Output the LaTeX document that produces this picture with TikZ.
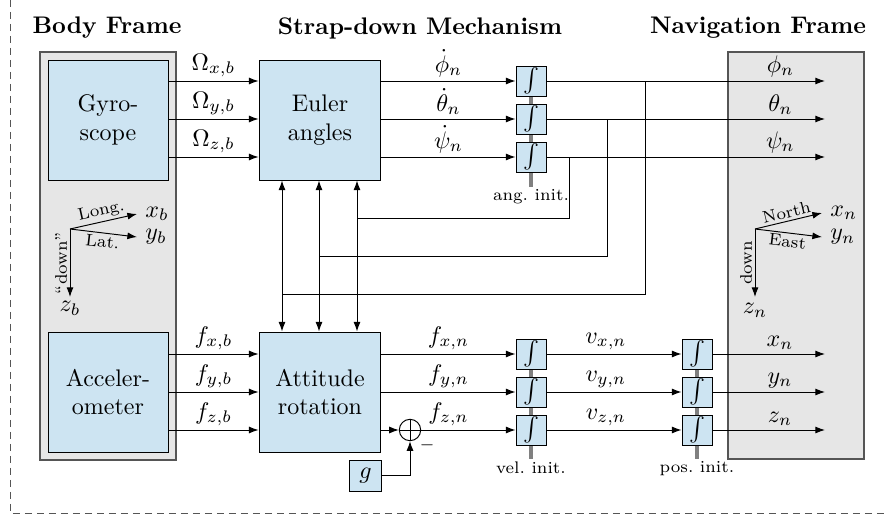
\documentclass[tikz,border=0pt]{standalone}
\usetikzlibrary{arrows.meta,backgrounds}
\definecolor{boxblue}{RGB}{205,228,242}
\definecolor{framegray}{RGB}{230,230,230}
\definecolor{edgegray}{RGB}{85,85,85}
\begin{document}
\begin{tikzpicture}[x=0.41667pt, y=-0.41667pt,
  >={Latex[length=4pt,width=2.9pt]},
  blk/.style={draw=black, fill=boxblue, minimum width=50pt, minimum height=50pt, inner sep=0pt, align=center},
  intbox/.style={draw=black, fill=boxblue, minimum size=12.5pt, inner sep=0pt},
  frm/.style={draw=edgegray, fill=framegray, line width=0.6pt, inner sep=0pt},
  ttl/.style={font=\bfseries},
  lbl/.style={above, inner sep=1.5pt},
  tinylbl/.style={font=\scriptsize, inner sep=1pt},
  initbar/.style={line width=2pt, draw=gray},
]
\useasboundingbox (0,0) rectangle (887,520);
% outer dashed frame
\coordinate (dtop) at (10,0);
\coordinate (dcorner) at (10,513);
\coordinate (dright) at (887,513);
\draw[edgegray, dash pattern=on 3pt off 2pt] (dtop) -- (dcorner) -- (dright);

% frames
\node[frm, minimum width=56.67pt, minimum height=170pt] (body) at (108,256) {};
\node[frm, minimum width=56.67pt, minimum height=169.6pt] (nav) at (796,255.5) {};

% titles
\node[ttl] (tbody) at (107,28) {Body Frame};
\node[ttl] (tmech) at (420,28) {Strap-down Mechanism};
\node[ttl] (tnav) at (758,28) {Navigation Frame};

% rows
\coordinate (r1) at (0,81);
\coordinate (r2) at (0,119);
\coordinate (r3) at (0,157);
\coordinate (r4) at (0,354);
\coordinate (r5) at (0,392);
\coordinate (r6) at (0,430);

% main blocks
\node[blk] (gyro) at (108,120) {Gyro-\\scope};
\node[blk, minimum width=50.8pt] (euler) at (320,120) {Euler\\angles};
\node[blk] (acc) at (108,392) {Acceler-\\ometer};
\node[blk, minimum width=50.8pt] (att) at (320,392) {Attitude\\rotation};

% integrators
\node[intbox] (ia1) at (531,81) {$\int$};
\node[intbox] (ia2) at (531,119) {$\int$};
\node[intbox] (ia3) at (531,157) {$\int$};
\node[intbox] (iv1) at (531,354) {$\int$};
\node[intbox] (iv2) at (531,392) {$\int$};
\node[intbox] (iv3) at (531,430) {$\int$};
\node[intbox] (ip1) at (697,354) {$\int$};
\node[intbox] (ip2) at (697,392) {$\int$};
\node[intbox] (ip3) at (697,430) {$\int$};

% init bars
\coordinate (angend) at (531,187);
\coordinate (velend) at (531,459);
\coordinate (posend) at (697,459);
\begin{scope}[on background layer]
\draw[initbar] (ia1.center) -- (angend);
\draw[initbar] (iv1.center) -- (velend);
\draw[initbar] (ip1.center) -- (posend);
\end{scope}
\node[tinylbl, below] (angtxt) at (angend) {ang.\ init.};
\node[tinylbl, below] (veltxt) at (velend) {vel.\ init.};
\node[tinylbl, below] (postxt) at (posend) {pos.\ init.};

% gyro -> euler
\draw[->] (gyro.east |- r1) -- (euler.west |- r1) node[midway,lbl]{$\Omega_{x,b}$};
\draw[->] (gyro.east |- r2) -- (euler.west |- r2) node[midway,lbl]{$\Omega_{y,b}$};
\draw[->] (gyro.east |- r3) -- (euler.west |- r3) node[midway,lbl]{$\Omega_{z,b}$};

% euler -> integrators
\draw[->] (euler.east |- r1) -- (ia1.west) node[midway,lbl]{$\dot\phi_n$};
\draw[->] (euler.east |- r2) -- (ia2.west) node[midway,lbl]{$\dot\theta_n$};
\draw[->] (euler.east |- r3) -- (ia3.west) node[midway,lbl]{$\dot\psi_n$};

% angle outputs
\coordinate (o1) at (825,81);
\coordinate (o2) at (825,119);
\coordinate (o3) at (825,157);
\draw[->] (ia1.east) -- (o1) node[lbl, pos=0.84]{$\phi_n$};
\draw[->] (ia2.east) -- (o2) node[lbl, pos=0.84]{$\theta_n$};
\draw[->] (ia3.east) -- (o3) node[lbl, pos=0.84]{$\psi_n$};

% feedback
\coordinate (b1) at (645,81);
\coordinate (b2) at (607,119);
\coordinate (b3) at (569,157);
\coordinate (f1) at (282,294);
\coordinate (f2) at (319,256);
\coordinate (f3) at (357,218);
\draw (b1) |- (f1);
\draw (b2) |- (f2);
\draw (b3) |- (f3);
\draw[<->] (euler.south -| f1) -- (att.north -| f1);
\draw[<->] (euler.south -| f2) -- (att.north -| f2);
\draw[<->] (euler.south -| f3) -- (att.north -| f3);

% acc -> attitude
\draw[->] (acc.east |- r4) -- (att.west |- r4) node[midway,lbl]{$f_{x,b}$};
\draw[->] (acc.east |- r5) -- (att.west |- r5) node[midway,lbl]{$f_{y,b}$};
\draw[->] (acc.east |- r6) -- (att.west |- r6) node[midway,lbl]{$f_{z,b}$};

% sum and gravity
\node[draw, circle, minimum size=8.9pt, inner sep=0pt] (sum) at (410,430) {};
\draw (sum.north) -- (sum.south) (sum.west) -- (sum.east);
\node[intbox, minimum width=13pt, minimum height=12.9pt] (g) at (365.5,475.5) {$g$};
\draw[->] (g.east) -| (sum.south);
\node[font=\scriptsize, anchor=north west, inner sep=0.5pt] (minus) at (sum.south east) {$-$};

% attitude -> vel integrators
\draw[->] (att.east |- r4) -- (iv1.west) node[midway,lbl]{$f_{x,n}$};
\draw[->] (att.east |- r5) -- (iv2.west) node[midway,lbl]{$f_{y,n}$};
\draw[->] (att.east |- r6) -- (sum.west);
\draw[->] (sum.east) -- (iv3.west) node[lbl, pos=0.29]{$f_{z,n}$};

% vel -> pos
\draw[->] (iv1.east) -- (ip1.west) node[lbl, pos=0.44]{$v_{x,n}$};
\draw[->] (iv2.east) -- (ip2.west) node[lbl, pos=0.44]{$v_{y,n}$};
\draw[->] (iv3.east) -- (ip3.west) node[lbl, pos=0.44]{$v_{z,n}$};

% position outputs
\coordinate (o4) at (825,354);
\coordinate (o5) at (825,392);
\coordinate (o6) at (825,430);
\draw[->] (ip1.east) -- (o4) node[lbl, pos=0.6]{$x_n$};
\draw[->] (ip2.east) -- (o5) node[lbl, pos=0.6]{$y_n$};
\draw[->] (ip3.east) -- (o6) node[lbl, pos=0.6]{$z_n$};

% body axes
\coordinate (ob) at (70,229);
\coordinate (xb) at (137,214);
\coordinate (yb) at (137,237);
\coordinate (zb) at (70,297);
\draw[->] (ob) -- (xb) node[midway, sloped, above, tinylbl]{Long.} node[right]{$x_b$};
\draw[->] (ob) -- (yb) node[midway, sloped, below, tinylbl]{Lat.} node[right]{$y_b$};
\draw[->] (ob) -- (zb) node[midway, rotate=90, anchor=south, tinylbl]{``down''} node[below, inner sep=1.5pt]{$z_b$};

% nav axes
\coordinate (on) at (755,229);
\coordinate (xn) at (822,213);
\coordinate (yn) at (822,237);
\coordinate (zn) at (755,297);
\draw[->] (on) -- (xn) node[midway, sloped, above, tinylbl]{North} node[right]{$x_n$};
\draw[->] (on) -- (yn) node[midway, sloped, below, tinylbl]{East} node[right]{$y_n$};
\draw[->] (on) -- (zn) node[midway, rotate=90, anchor=south, tinylbl]{down} node[below, inner sep=2.5pt]{$z_n$};
\end{tikzpicture}
\end{document}
